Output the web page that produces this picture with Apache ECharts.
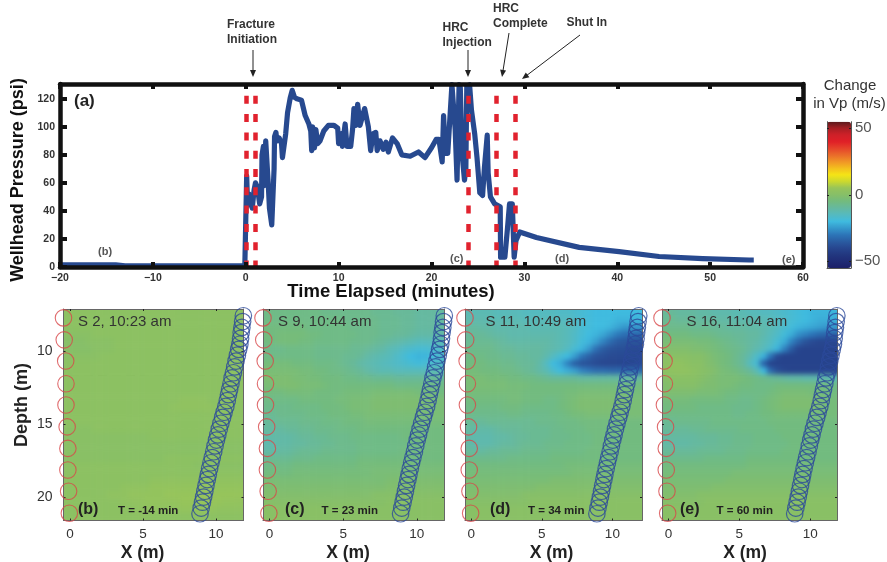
<!DOCTYPE html>
<html><head><meta charset="utf-8">
<style>html,body{margin:0;padding:0;background:#fff}#c{width:887px;height:562px}</style>
<script src="https://cdn.jsdelivr.net/npm/echarts@6/dist/echarts.min.js"></script></head>
<body><div id="c"></div>
<script>
const FONT='"Liberation Sans",Arial,sans-serif';
// Wellhead pressure, [minutes, psi]
const pressure=[[-20,1.5],[-14,1.5],[-13,0.8],[-5,0.8],[-0.1,0.8],[0.05,1],[0.1,65],[0.2,44],[0.35,52],[0.5,52],[0.7,42],[0.9,55],[1.05,60],[1.25,57],[1.5,45],[1.7,50],[1.75,80],[1.9,86],[2.0,58],[2.15,90],[2.3,89],[2.4,62],[2.55,42],[2.8,30],[2.95,29],[3.05,70],[3.1,93],[3.25,96],[3.35,90],[3.6,92],[3.85,88],[3.95,78],[4.15,77],[4.3,95],[4.5,110],[4.8,121],[5,126],[5.25,121],[5.5,120],[6,119],[6.4,108],[6.8,102],[7.0,97],[7.1,83],[7.2,100],[7.4,85],[7.55,98],[7.75,88],[8,90],[8.4,97],[8.9,101],[9.5,101],[9.9,99],[10,88],[10.3,95],[10.4,86],[10.7,102],[10.9,86],[11.3,86],[11.5,98],[11.65,113],[11.85,101],[12.05,116],[12.3,101],[12.8,113],[13.2,100],[13.45,83],[13.7,95],[14,96],[14.15,83],[14.45,90],[14.8,84],[15.1,89],[15.35,82],[15.8,92],[16.3,88],[16.8,80],[17.7,79],[18.6,82],[19.3,78],[20,85],[20.5,91],[20.8,91],[21.15,75],[21.3,108],[21.5,81],[21.75,81],[22.2,130],[22.4,129],[22.55,98],[22.75,62],[22.85,62],[22.97,130],[23.1,128],[23.3,80],[23.55,62],[23.7,70],[23.8,129],[24.1,130],[24.3,112],[24.65,95],[24.9,78],[25.2,53],[25.5,51],[25.7,71],[26,94],[26.1,67],[26.35,50],[26.8,45],[27.4,43],[27.44,7],[27.9,7],[28.2,29],[28.4,45],[28.7,45],[28.9,7],[29.1,19],[29.5,25],[31.3,21],[35.9,14],[40.2,11],[44.5,7.5],[49.2,6],[54.2,5],[54.7,5]];
const eventTimes=[0,1,24,27,29];
const psiTicks=[0,20,40,60,80,100,120];
const depthTicks=[10,15,20];
const xTicks=[0,5,10];
const barTicks=[-50,0,50];
const interfaceDepth=11.7;
// Sources, [x m, depth m]
const sources=[[-0.45,7.75],[-0.4,9.25],[-0.3,10.7],[-0.28,12.25],[-0.28,13.7],[-0.2,15.2],[-0.15,16.67],[-0.15,18.15],[-0.1,19.6],[-0.05,21.1]];
// Receivers, [x m, depth m]
const receivers=[[11.87,7.6],[11.82,8],[11.77,8.4],[11.72,8.75],[11.68,9.15],[11.63,9.55],[11.55,9.9],[11.46,10.3],[11.37,10.7],[11.28,11.1],[11.19,11.5],[11.1,11.85],[11.02,12.25],[10.93,12.65],[10.85,13],[10.77,13.4],[10.67,13.8],[10.55,14.2],[10.45,14.55],[10.33,14.95],[10.22,15.35],[10.12,15.75],[10.03,16.1],[9.93,16.5],[9.84,16.9],[9.74,17.3],[9.65,17.65],[9.56,18.05],[9.47,18.45],[9.4,18.8],[9.31,19.2],[9.23,19.6],[9.15,20],[9.07,20.35],[8.98,20.75],[8.9,21.14]];
// Change in Vp (m/s) on a 25 x 29 cell grid; one row per depth from the top
const fieldB=[
[2,2,2,2,2,2,2,2,2,2,2,2,2,2,2,2,2,2,2,2,2,2,2,2,2],
[2,2,2,2,2,2,2,2,2,2,2,2,2,2,2,2,2,2,2,2,2,2,2,2,2],
[2,2,2,2,2,2,2,2,2,2,2,2,2,2,2,2,2,2,2,2,2,2,2,2,2],
[1,1,1,1,2,2,2,2,2,2,2,2,2,2,2,2,2,2,2,2,2,2,2,2,2],
[0,0,0,1,1,1,1,2,2,2,2,2,2,2,2,2,2,2,2,2,2,2,2,2,2],
[0,0,0,0,1,1,1,2,2,2,2,2,2,2,2,2,2,2,2,2,2,2,2,2,2],
[1,1,1,1,1,2,2,2,2,2,2,2,2,2,2,2,2,2,2,2,2,2,2,2,2],
[2,2,2,2,2,2,2,2,2,2,2,2,2,2,2,2,2,2,2,2,2,2,2,2,2],
[2,2,2,2,2,2,2,2,2,2,2,2,2,2,2,2,2,2,2,2,2,2,2,2,2],
[2,2,2,2,2,2,2,2,2,2,2,2,2,2,2,2,2,2,2,2,2,2,2,2,2],
[2,2,2,2,2,2,2,2,2,2,2,2,2,2,2,2,2,2,2,2,2,2,2,2,2],
[2,2,2,2,2,2,2,2,2,2,2,2,2,2,2,2,2,2,2,2,2,2,2,2,2],
[2,2,2,2,2,2,2,2,2,2,2,2,2,2,2,2,3,3,3,3,2,2,2,2,2],
[2,2,2,2,2,2,2,2,2,2,2,2,2,2,2,3,3,3,3,3,3,2,2,2,2],
[2,2,2,2,2,2,2,2,2,2,2,2,2,2,2,2,2,2,2,2,2,2,2,2,2],
[2,2,2,2,2,2,2,2,2,2,2,2,2,2,2,2,2,2,2,2,2,2,2,2,2],
[1,1,1,1,2,2,2,2,2,2,2,2,2,2,2,2,2,2,2,2,2,2,2,2,2],
[1,1,1,1,1,1,1,1,1,1,1,1,2,2,2,2,2,2,2,2,2,2,2,2,2],
[1,1,1,1,1,1,1,1,1,1,1,1,1,1,1,1,1,1,1,1,1,1,1,1,1],
[1,1,1,1,1,1,1,1,1,1,1,1,1,1,1,1,1,1,1,1,1,1,1,1,1],
[1,1,1,1,1,1,1,1,1,1,1,1,1,1,2,2,2,2,2,2,2,2,2,2,2],
[2,2,2,2,2,2,2,2,2,2,2,2,2,2,2,2,2,2,1,1,1,1,1,1,1],
[2,2,2,2,2,2,2,2,2,2,2,2,2,2,2,2,2,2,2,2,2,2,2,2,2],
[2,2,2,2,2,2,2,2,2,2,2,2,3,3,3,3,3,3,3,3,3,3,3,3,3],
[2,2,2,2,2,2,2,2,3,3,3,3,4,4,4,4,4,4,4,4,4,4,4,4,4],
[2,2,2,2,2,2,3,3,3,4,4,4,4,4,5,5,5,5,5,5,5,5,5,5,5],
[2,2,2,2,2,2,2,2,3,3,3,4,4,4,4,4,5,5,5,5,5,5,4,4,4],
[2,2,2,2,2,2,2,2,2,2,3,3,3,3,3,3,4,4,4,4,4,3,3,3,3],
[2,2,2,2,2,2,2,2,2,2,2,2,2,2,2,2,2,2,2,2,2,2,2,2,2]];
const fieldC=[
[-6,-6,-6,-6,-6,-6,-6,-6,-7,-7,-7,-7,-7,-7,-7,-8,-8,-8,-9,-9,-9,-10,-10,-10,-10],
[-6,-6,-6,-6,-6,-6,-6,-6,-6,-6,-6,-7,-7,-7,-7,-7,-8,-8,-8,-9,-9,-10,-10,-10,-10],
[-5,-5,-5,-5,-5,-5,-6,-6,-6,-6,-6,-6,-7,-7,-7,-7,-8,-8,-8,-9,-9,-10,-10,-10,-10],
[-5,-5,-4,-4,-4,-4,-5,-5,-6,-6,-6,-6,-6,-7,-7,-7,-8,-8,-9,-9,-10,-11,-11,-11,-11],
[-5,-5,-4,-4,-4,-5,-5,-6,-6,-6,-6,-6,-7,-7,-7,-8,-9,-10,-11,-12,-13,-14,-14,-14,-13],
[-7,-7,-7,-6,-6,-6,-6,-7,-7,-7,-7,-7,-8,-8,-9,-10,-11,-13,-14,-16,-17,-18,-18,-17,-16],
[-6,-6,-6,-6,-6,-6,-6,-7,-7,-7,-7,-8,-8,-9,-11,-12,-13,-14,-16,-18,-20,-21,-21,-19,-17],
[-4,-4,-4,-4,-5,-5,-5,-6,-6,-6,-7,-8,-9,-11,-12,-13,-14,-15,-16,-17,-18,-19,-18,-17,-16],
[-3,-3,-3,-3,-3,-4,-4,-5,-5,-6,-6,-7,-8,-9,-11,-12,-13,-13,-14,-14,-14,-14,-14,-13,-13],
[-2,-2,-2,-2,-3,-3,-4,-4,-5,-5,-5,-6,-6,-7,-7,-8,-8,-8,-9,-9,-9,-9,-9,-9,-9],
[-3,-3,-2,-2,-2,-3,-3,-3,-4,-5,-5,-5,-5,-5,-5,-5,-5,-5,-6,-6,-6,-6,-6,-6,-6],
[-5,-5,-5,-4,-4,-4,-4,-5,-5,-5,-5,-4,-4,-4,-4,-3,-3,-3,-3,-3,-3,-4,-4,-4,-5],
[-6,-6,-6,-6,-6,-5,-5,-5,-5,-5,-4,-4,-3,-3,-3,-2,-2,-2,-2,-2,-2,-2,-3,-3,-3],
[-7,-7,-7,-7,-6,-6,-6,-6,-5,-5,-5,-4,-3,-3,-3,-2,-2,-2,-2,-2,-2,-2,-3,-3,-3],
[-8,-8,-7,-7,-7,-7,-6,-6,-6,-5,-5,-5,-4,-4,-3,-3,-3,-3,-3,-3,-3,-3,-3,-3,-3],
[-9,-9,-8,-8,-8,-7,-7,-7,-6,-6,-6,-5,-5,-5,-4,-4,-4,-4,-4,-4,-4,-4,-4,-4,-4],
[-10,-10,-10,-9,-9,-8,-8,-7,-7,-7,-6,-6,-6,-5,-5,-5,-5,-5,-5,-5,-5,-5,-5,-5,-5],
[-11,-11,-11,-11,-10,-9,-9,-8,-8,-7,-7,-7,-6,-6,-6,-6,-6,-6,-6,-5,-5,-5,-5,-5,-5],
[-12,-12,-11,-11,-10,-10,-9,-9,-8,-8,-7,-7,-7,-6,-6,-6,-6,-6,-6,-6,-5,-5,-5,-5,-5],
[-11,-11,-10,-10,-9,-8,-8,-8,-7,-7,-7,-7,-7,-6,-6,-6,-6,-6,-6,-5,-5,-5,-5,-5,-5],
[-8,-8,-8,-8,-7,-7,-7,-6,-6,-6,-6,-6,-6,-5,-5,-5,-5,-5,-5,-5,-5,-5,-5,-5,-5],
[-6,-6,-6,-6,-5,-5,-5,-5,-5,-5,-5,-5,-5,-4,-4,-4,-4,-4,-4,-4,-4,-4,-4,-4,-4],
[-5,-5,-5,-5,-4,-4,-4,-4,-4,-4,-4,-4,-4,-4,-4,-3,-3,-3,-3,-3,-3,-3,-3,-3,-3],
[-3,-3,-3,-3,-3,-3,-3,-3,-3,-3,-3,-3,-3,-3,-3,-3,-3,-2,-2,-2,-2,-2,-2,-2,-2],
[-2,-2,-2,-2,-2,-2,-2,-2,-2,-2,-2,-2,-2,-2,-2,-2,-2,-1,-1,-1,-1,-1,-1,-1,-1],
[-1,-1,-1,-1,-1,-1,-1,-1,-1,-1,-1,-1,-1,-1,-1,0,0,0,0,0,0,0,0,0,0],
[0,0,0,0,0,0,0,0,0,0,0,0,0,0,0,0,0,1,1,1,1,1,1,1,1],
[1,1,1,1,1,1,1,1,1,1,1,1,1,1,1,1,1,1,1,1,1,1,1,1,1],
[1,1,1,1,1,1,1,1,1,1,1,1,1,1,1,1,1,1,1,1,1,1,1,1,1]];
const fieldD=[
[-13,-13,-13,-13,-14,-14,-14,-14,-15,-15,-15,-15,-15,-16,-16,-17,-18,-19,-20,-20,-20,-20,-20,-20,-20],
[-12,-12,-12,-13,-13,-13,-13,-13,-14,-14,-14,-14,-14,-15,-15,-16,-18,-19,-20,-20,-20,-21,-21,-21,-21],
[-10,-10,-11,-11,-12,-12,-12,-12,-12,-13,-13,-13,-13,-13,-14,-15,-18,-19,-20,-20,-21,-23,-25,-25,-25],
[-9,-9,-9,-10,-11,-11,-12,-12,-12,-12,-12,-12,-12,-13,-14,-16,-18,-20,-21,-23,-26,-29,-31,-32,-33],
[-8,-8,-8,-8,-9,-10,-11,-11,-11,-11,-11,-11,-12,-13,-14,-16,-19,-21,-24,-28,-32,-35,-36,-37,-37],
[-7,-7,-7,-7,-8,-9,-9,-10,-10,-10,-10,-11,-12,-13,-15,-18,-21,-25,-31,-35,-37,-38,-38,-39,-39],
[-6,-6,-6,-7,-7,-8,-8,-9,-9,-10,-10,-12,-15,-18,-20,-24,-30,-34,-37,-38,-39,-39,-39,-39,-39],
[-5,-5,-5,-6,-6,-7,-7,-8,-9,-9,-11,-15,-20,-22,-28,-34,-37,-38,-39,-40,-40,-40,-40,-40,-39],
[-4,-4,-5,-5,-5,-6,-6,-7,-8,-9,-11,-13,-17,-20,-22,-24,-28,-30,-32,-32,-33,-33,-33,-33,-33],
[-3,-3,-3,-4,-4,-4,-5,-5,-6,-6,-7,-8,-9,-9,-9,-9,-10,-10,-10,-10,-10,-10,-10,-10,-10],
[-3,-3,-3,-3,-3,-3,-4,-4,-4,-5,-5,-5,-5,-5,-5,-5,-5,-5,-5,-5,-5,-5,-5,-5,-5],
[-4,-4,-4,-4,-4,-4,-4,-4,-5,-5,-5,-5,-5,-5,-4,-4,-3,-3,-3,-3,-3,-3,-4,-4,-4],
[-5,-5,-5,-5,-5,-5,-4,-4,-5,-5,-5,-6,-6,-5,-4,-3,-2,-2,-2,-2,-2,-2,-2,-3,-3],
[-6,-6,-6,-6,-6,-5,-5,-5,-6,-6,-6,-6,-6,-5,-4,-3,-2,-2,-2,-2,-2,-2,-3,-3,-3],
[-7,-7,-7,-7,-7,-7,-6,-6,-7,-7,-7,-7,-6,-6,-5,-4,-4,-3,-3,-3,-3,-3,-3,-3,-3],
[-8,-9,-9,-8,-8,-8,-8,-8,-8,-8,-7,-7,-7,-6,-6,-6,-5,-5,-5,-5,-5,-5,-5,-5,-5],
[-10,-11,-11,-11,-10,-9,-9,-9,-8,-8,-8,-8,-7,-7,-6,-6,-6,-5,-5,-5,-5,-5,-5,-5,-5],
[-11,-12,-12,-12,-11,-11,-10,-9,-9,-8,-8,-8,-7,-7,-7,-6,-6,-6,-5,-5,-5,-5,-5,-5,-5],
[-11,-12,-12,-12,-11,-10,-10,-9,-8,-8,-8,-7,-7,-7,-6,-6,-6,-6,-5,-5,-5,-5,-5,-5,-5],
[-9,-10,-10,-9,-9,-8,-8,-8,-7,-7,-7,-7,-6,-6,-6,-6,-6,-5,-5,-5,-5,-5,-5,-5,-5],
[-7,-7,-7,-7,-7,-7,-6,-6,-6,-6,-6,-6,-5,-5,-5,-5,-5,-5,-5,-5,-5,-5,-5,-5,-5],
[-5,-5,-5,-5,-5,-5,-5,-5,-5,-5,-5,-5,-5,-5,-4,-4,-4,-4,-4,-4,-4,-4,-4,-4,-4],
[-4,-4,-4,-4,-4,-4,-4,-4,-4,-4,-4,-4,-4,-4,-4,-3,-3,-3,-3,-3,-3,-3,-3,-3,-3],
[-3,-3,-3,-3,-3,-3,-3,-3,-3,-3,-3,-3,-2,-2,-2,-2,-2,-2,-2,-2,-2,-2,-2,-2,-2],
[-2,-2,-2,-2,-2,-2,-2,-2,-2,-2,-1,-1,-1,-1,-1,-1,-1,-1,-1,-1,-1,-1,-1,-1,-1],
[-1,-1,-1,-1,-1,-1,-1,-1,0,0,0,0,0,0,0,0,0,0,0,0,0,0,0,0,0],
[0,0,0,0,0,0,0,0,0,1,1,1,1,1,1,1,1,1,1,1,1,1,1,1,1],
[1,1,1,1,1,1,1,1,1,1,1,1,1,1,1,1,1,1,1,1,1,1,1,1,1],
[1,1,1,1,1,1,1,1,1,1,1,1,1,1,1,1,1,1,1,1,1,1,1,1,1]];
const fieldE=[
[-9,-9,-10,-10,-10,-11,-11,-12,-12,-12,-13,-13,-14,-14,-15,-15,-16,-17,-18,-19,-20,-21,-21,-21,-21],
[-8,-8,-9,-9,-9,-10,-10,-10,-11,-11,-12,-12,-12,-13,-13,-14,-15,-16,-18,-19,-20,-21,-22,-22,-22],
[-7,-7,-7,-7,-8,-8,-8,-9,-9,-10,-10,-10,-11,-11,-12,-13,-15,-17,-19,-21,-22,-23,-24,-25,-25],
[-5,-5,-5,-5,-6,-6,-6,-7,-8,-8,-9,-9,-10,-10,-12,-14,-16,-19,-22,-26,-28,-30,-32,-33,-34],
[-3,-3,-3,-3,-3,-4,-4,-5,-6,-7,-8,-9,-10,-11,-13,-15,-18,-22,-28,-33,-37,-39,-40,-40,-40],
[-1,-1,-1,-1,-2,-2,-3,-4,-5,-6,-7,-8,-10,-12,-14,-17,-21,-28,-35,-40,-41,-41,-41,-41,-41],
[1,1,1,1,0,0,-1,-3,-4,-5,-7,-9,-12,-16,-21,-30,-39,-41,-41,-41,-41,-41,-41,-41,-41],
[2,3,3,2,1,1,-1,-2,-4,-5,-7,-9,-14,-18,-33,-41,-41,-41,-41,-41,-41,-41,-41,-41,-41],
[2,3,3,3,2,1,0,-1,-3,-4,-5,-7,-9,-13,-20,-32,-38,-40,-41,-41,-41,-41,-41,-41,-41],
[0,1,1,1,1,0,-1,-2,-3,-3,-3,-4,-5,-6,-7,-8,-9,-10,-11,-11,-12,-12,-12,-12,-13],
[-1,0,0,0,0,-1,-2,-2,-3,-3,-4,-5,-5,-6,-6,-6,-5,-5,-5,-5,-5,-5,-5,-5,-6],
[-2,-2,-2,-2,-2,-3,-3,-3,-4,-5,-5,-6,-6,-6,-6,-5,-4,-3,-3,-3,-3,-4,-4,-5,-5],
[-4,-4,-4,-4,-5,-5,-5,-5,-5,-6,-6,-7,-7,-6,-5,-4,-3,-2,-2,-2,-2,-2,-3,-4,-4],
[-5,-5,-5,-5,-5,-6,-6,-6,-6,-6,-7,-7,-7,-6,-5,-4,-3,-2,-2,-2,-2,-2,-3,-4,-4],
[-6,-6,-6,-6,-6,-6,-6,-6,-6,-6,-7,-7,-6,-6,-5,-5,-4,-4,-4,-4,-4,-4,-4,-4,-4],
[-8,-8,-7,-7,-7,-7,-7,-6,-6,-6,-6,-6,-6,-6,-6,-5,-5,-5,-5,-5,-5,-5,-5,-5,-5],
[-9,-9,-9,-9,-8,-8,-7,-7,-7,-7,-7,-6,-6,-6,-6,-6,-5,-5,-5,-5,-5,-5,-5,-5,-5],
[-10,-10,-10,-10,-10,-9,-9,-9,-8,-8,-7,-7,-7,-6,-6,-6,-6,-5,-5,-5,-5,-5,-5,-5,-5],
[-11,-11,-11,-11,-10,-10,-9,-9,-8,-8,-7,-7,-7,-6,-6,-6,-6,-6,-5,-5,-5,-5,-5,-5,-5],
[-9,-9,-9,-9,-9,-8,-8,-8,-8,-7,-7,-7,-6,-6,-6,-6,-6,-5,-5,-5,-5,-5,-5,-5,-5],
[-7,-7,-7,-7,-7,-7,-6,-6,-6,-6,-6,-6,-5,-5,-5,-5,-5,-5,-5,-5,-5,-5,-5,-5,-5],
[-5,-5,-5,-5,-5,-5,-5,-5,-5,-5,-5,-5,-4,-4,-4,-4,-4,-4,-4,-4,-4,-4,-4,-4,-4],
[-4,-4,-4,-4,-4,-4,-4,-4,-4,-4,-3,-3,-3,-3,-3,-3,-3,-3,-3,-3,-3,-3,-3,-3,-3],
[-3,-3,-3,-3,-3,-3,-3,-3,-3,-2,-2,-2,-2,-2,-2,-2,-2,-2,-2,-2,-2,-2,-2,-2,-2],
[-2,-2,-2,-2,-2,-2,-2,-1,-1,-1,-1,-1,-1,-1,-1,-1,-1,-1,-1,-1,-1,-1,-1,-1,-1],
[-1,-1,-1,-1,-1,0,0,0,0,0,0,0,0,0,0,0,0,0,0,0,0,0,0,0,0],
[0,0,0,0,0,0,1,1,1,1,1,1,1,1,1,1,1,1,1,1,1,1,1,1,1],
[1,1,1,1,1,1,1,1,1,1,1,1,1,1,1,1,1,1,1,1,1,1,1,1,1],
[1,1,1,1,1,1,1,1,1,1,1,1,1,1,1,1,1,1,1,1,1,1,1,1,1]];
const vpColors=['#1c2068','#1f2b75','#22377f','#27468f','#2a5ca2','#2c75b8','#3598cc','#3fbbdf','#55bac0','#65b9a0','#72bb7f','#86bf68','#96c45a','#cbd82f','#f5e515','#f4bf1e','#f09426','#ea6b2a','#e5432a','#e01f27','#cf2028','#a81e24','#5a1a1c'];

const panels=[
 {field:fieldB,left:63.5,w:180,xMax:11.88,title:'S 2, 10:23 am',tag:'(b)',t:'T = -14 min',tx:78,tagx:78,tTimeX:118,labelX:142.5},
 {field:fieldC,left:263,w:181,xMax:11.85,title:'S 9, 10:44 am',tag:'(c)',t:'T = 23 min',tx:278,tagx:285,tTimeX:321.5,labelX:348},
 {field:fieldD,left:465,w:177,xMax:12.1,title:'S 11, 10:49 am',tag:'(d)',t:'T = 34 min',tx:485.5,tagx:490,tTimeX:528,labelX:551.5},
 {field:fieldE,left:662,w:175,xMax:11.88,title:'S 16, 11:04 am',tag:'(e)',t:'T = 60 min',tx:686.5,tagx:680,tTimeX:716.5,labelX:745}
];
const PT=309,PH=211.5;
const grids=[{left:60,top:84,width:743,height:183}];
const xAxes=[],yAxes=[],series=[];
const blk='#111';
const OVER=2;
xAxes.push({type:'value',gridIndex:0,min:-20,max:60,interval:10,z:6,
 axisLine:{show:true,onZero:false,lineStyle:{color:blk,width:4.5}},
 axisTick:{show:true,inside:true,length:5,lineStyle:{color:blk,width:4}},
 splitLine:{show:false},
 axisLabel:{color:'#333',fontFamily:FONT,fontWeight:'bold',fontSize:10.5,margin:6,formatter:v=>v<0?'\u2212'+(-v):''+v}});
xAxes.push({type:'value',gridIndex:0,position:'top',min:-20,max:60,interval:10,z:6,
 axisLine:{show:true,onZero:false,lineStyle:{color:blk,width:4.5}},
 axisTick:{show:true,inside:true,length:5,lineStyle:{color:blk,width:4}},
 splitLine:{show:false},axisLabel:{show:false}});
yAxes.push({type:'value',gridIndex:0,min:0,max:130.5,z:6,
 axisLine:{show:true,onZero:false,lineStyle:{color:blk,width:4.5}},
 axisTick:{show:true,inside:true,length:7,customValues:psiTicks,lineStyle:{color:blk,width:4}},
 splitLine:{show:false},
 axisLabel:{customValues:psiTicks,color:'#333',fontFamily:FONT,fontWeight:'bold',fontSize:10.5,margin:5}});
yAxes.push({type:'value',gridIndex:0,position:'right',min:0,max:130.5,z:6,
 axisLine:{show:true,onZero:false,lineStyle:{color:blk,width:4.5}},
 axisTick:{show:true,inside:true,length:7,customValues:psiTicks,lineStyle:{color:blk,width:4}},
 splitLine:{show:false},axisLabel:{show:false}});
series.push({type:'line',name:'Wellhead pressure',xAxisIndex:0,yAxisIndex:0,data:pressure,showSymbol:false,clip:true,z:3,
 lineStyle:{color:'#27498f',width:5.2,join:'round'},
 markLine:{silent:true,symbol:'none',z:5,label:{show:false},
  lineStyle:{color:'#e1222e',width:4.5,type:[8,10.3],dashOffset:1.5},
  data:eventTimes.map(t=>({xAxis:t}))}});

panels.forEach((p,i)=>{
 const g=grids.length; grids.push({left:p.left,top:PT,width:p.w,height:PH});
 const rows=p.field.length,cols=p.field[0].length,cw=p.w/cols,ch=PH/rows;
 // the heatmap's grid is one cell larger on every side; the extra cells repeat the edge cells and are clipped below
 const gh=grids.length; grids.push({left:p.left-cw,top:PT-ch,width:p.w+2*cw,height:PH+2*ch});
 const tk={show:true,inside:true,length:2,lineStyle:{color:'#222',width:1}};
 const line={show:true,onZero:false,lineStyle:{color:'#666',width:1}};
 const xv=xAxes.length;
 xAxes.push({type:'value',gridIndex:g,min:-0.45,max:p.xMax,z:3,zlevel:OVER,axisLine:line,
  axisTick:{...tk,customValues:xTicks},splitLine:{show:false},
  axisLabel:{customValues:xTicks,color:'#333',fontFamily:FONT,fontSize:13.5,margin:7}});
 xAxes.push({type:'value',gridIndex:g,position:'top',min:-0.45,max:p.xMax,z:3,zlevel:OVER,axisLine:line,
  axisTick:{...tk,customValues:xTicks},splitLine:{show:false},axisLabel:{show:false}});
 const xc=xAxes.length;
 xAxes.push({type:'category',gridIndex:gh,show:false,data:Array.from({length:cols+2},(_,c)=>c)});
 const yv=yAxes.length;
 yAxes.push({type:'value',gridIndex:g,inverse:true,min:7.14,max:21.6,z:3,zlevel:OVER,axisLine:line,
  axisTick:{...tk,customValues:depthTicks},splitLine:{show:false},
  axisLabel:i==0?{customValues:depthTicks,color:'#333',fontFamily:FONT,fontSize:14,margin:11}:{show:false}});
 yAxes.push({type:'value',gridIndex:g,position:'right',inverse:true,min:7.14,max:21.6,z:3,zlevel:OVER,axisLine:line,
  axisTick:{...tk,customValues:depthTicks},splitLine:{show:false},axisLabel:{show:false}});
 const yc=yAxes.length;
 yAxes.push({type:'category',gridIndex:gh,show:false,inverse:true,data:Array.from({length:rows+2},(_,r)=>r)});
 const cells=[];
 for(let r=-1;r<=rows;r++)for(let c=-1;c<=cols;c++){
  const rr=Math.min(rows-1,Math.max(0,r)),cc=Math.min(cols-1,Math.max(0,c));
  cells.push([c+1,r+1,p.field[rr][cc]]);
 }
 series.push({type:'heatmap',xAxisIndex:xc,yAxisIndex:yc,data:cells,z:2,zlevel:1,progressive:0,silent:true});
 series.push({type:'scatter',xAxisIndex:xv,yAxisIndex:yv,data:sources,symbolSize:16.5,clip:false,z:4,zlevel:OVER,silent:true,
  itemStyle:{color:'rgba(0,0,0,0)',borderColor:'#d8474a',borderWidth:1.1},
  markLine:{silent:true,symbol:'none',label:{show:false},
   lineStyle:{color:'#333',width:1,type:[9,5]},
   data:[[{coord:[0,interfaceDepth]},{coord:[p.xMax,interfaceDepth]}]]}});
 series.push({type:'scatter',xAxisIndex:xv,yAxisIndex:yv,data:receivers,symbolSize:16.5,clip:false,z:4,zlevel:OVER,silent:true,
  itemStyle:{color:'rgba(0,0,0,0)',borderColor:'#2c4a9a',borderWidth:1.2}});
});
// colour bar frame and tick labels
const gb=grids.length; grids.push({left:827,top:121.7,width:24,height:146.3});
xAxes.push({type:'value',gridIndex:gb,min:0,max:1,z:6,show:true,axisLabel:{show:false},axisTick:{show:false},splitLine:{show:false},axisLine:{show:true,onZero:false,lineStyle:{color:'#555',width:1}}});
yAxes.push({type:'value',gridIndex:gb,position:'right',min:-55,max:55,z:6,
 axisLine:{show:true,onZero:false,lineStyle:{color:'#555',width:1}},
 axisTick:{show:true,inside:true,length:2,customValues:barTicks,lineStyle:{color:'#222'}},splitLine:{show:false},
 axisLabel:{customValues:barTicks,color:'#555',fontFamily:FONT,fontSize:15,margin:4,formatter:v=>v<0?'\u2212'+(-v):''+v}});
yAxes.push({type:'value',gridIndex:gb,position:'left',min:-55,max:55,z:6,
 axisLine:{show:true,onZero:false,lineStyle:{color:'#555',width:1}},
 axisTick:{show:true,inside:true,length:2,customValues:barTicks,lineStyle:{color:'#222'}},splitLine:{show:false},axisLabel:{show:false}});

function txt(x,y,s,size,weight,color,align,rot){const el={type:'text',x,y,z:20,zlevel:OVER,silent:true,
 style:{text:s,font:(weight||'normal')+' '+size+'px '+FONT,fill:color||'#222',verticalAlign:'middle',align:align||'left'}};
 if(rot)el.rotation=rot;return el;}
function arrow(x1,y1,x2,y2){const a=Math.atan2(y2-y1,x2-x1),L=7,W=3;
 return [{type:'line',z:20,zlevel:OVER,silent:true,shape:{x1,y1,x2:x2-Math.cos(a)*L*.6,y2:y2-Math.sin(a)*L*.6},style:{stroke:'#222',lineWidth:1}},
 {type:'polygon',z:20,zlevel:OVER,silent:true,shape:{points:[[x2,y2],[x2-Math.cos(a)*L+Math.sin(a)*W,y2-Math.sin(a)*L-Math.cos(a)*W],[x2-Math.cos(a)*L-Math.sin(a)*W,y2-Math.sin(a)*L+Math.cos(a)*W]]},style:{fill:'#222'}}];}
const gfx=[
 txt(227,25,'Fracture',12,'bold','#333'),txt(227,40,'Initiation',12,'bold','#333'),
 txt(442.5,28,'HRC',12,'bold','#333'),txt(442.5,43,'Injection',12,'bold','#333'),
 txt(493,9,'HRC',12,'bold','#333'),txt(493,24,'Complete',12,'bold','#333'),
 txt(566.5,23,'Shut In',12,'bold','#333'),
 ...arrow(253,50,253,77),...arrow(468,50,468,77),...arrow(509,33,502,77),...arrow(580,35,522,79),
 txt(74,101,'(a)',17,'bold','#222'),
 txt(98,252,'(b)',11,'bold','#555'),txt(450,258.5,'(c)',11,'bold','#555'),txt(555,258.5,'(d)',11,'bold','#555'),txt(782,259.5,'(e)',11,'bold','#555'),
 txt(18,180,'Wellhead Pressure (psi)',18,'bold','#111','center',Math.PI/2),
 txt(391,292,'Time Elapsed (minutes)',18.5,'bold','#111','center'),
 txt(850,85.5,'Change',15,'normal','#333','center'),
 txt(849.5,104,'in Vp (m/s)',15,'normal','#333','center'),
 txt(22,405,'Depth (m)',18,'bold','#222','center',Math.PI/2)
];
panels.forEach(p=>{
 gfx.push(txt(p.tx,321.5,p.title,15,'normal','#333'));
 gfx.push(txt(p.tagx,510,p.tag,16,'bold','#222'));
 gfx.push(txt(p.tTimeX,511,p.t,11.5,'bold','#222'));
 gfx.push(txt(p.labelX,553,'X (m)',17.5,'bold','#222','center'));
});
const chart=echarts.init(document.getElementById('c'),null,{renderer:'canvas'});
chart.setOption({animation:false,backgroundColor:'#fff',grid:grids,xAxis:xAxes,yAxis:yAxes,series,
 visualMap:{type:'continuous',min:-55,max:55,seriesIndex:series.map((s,i)=>s.type=='heatmap'?i:-1).filter(i=>i>=0),
  left:827,top:121.7,itemWidth:24,itemHeight:146.3,padding:0,calculable:false,realtime:false,showLabel:false,
  hoverLink:false,inRange:{color:vpColors},textStyle:{color:'rgba(0,0,0,0)'},formatter:()=>''},
 graphic:{elements:gfx}});
// Soften the heatmap layer into a smooth field, and keep it inside each panel
const heatLayer=chart.getDom().querySelector('canvas[data-zr-dom-id="zr_1"]');
if(heatLayer){
 heatLayer.style.filter='blur(2.6px)';
 heatLayer.style.clipPath="path('"+panels.map(p=>`M${p.left} ${PT}H${p.left+p.w}V${PT+PH}H${p.left}Z`).join(' ')+"')";
}
</script></body></html>
